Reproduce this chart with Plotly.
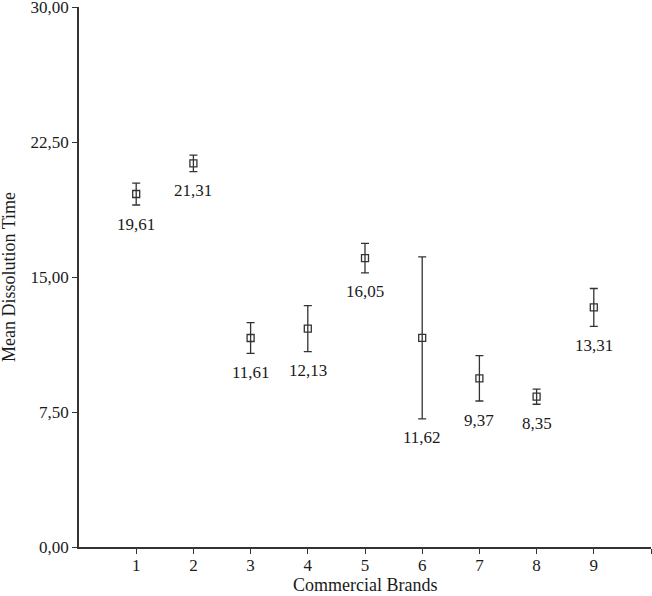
import plotly.graph_objects as go

brands = [1, 2, 3, 4, 5, 6, 7, 8, 9]
mean_time = [19.61, 21.31, 11.61, 12.13, 16.05, 11.62, 9.37, 8.35, 13.31]
error = [0.61, 0.46, 0.85, 1.28, 0.82, 4.5, 1.26, 0.42, 1.05]

y_tickvals = [0, 7.5, 15, 22.5, 30]
x_tickvals = [1, 2, 3, 4, 5, 6, 7, 8, 9, 10]
x_ticktext = ["1", "2", "3", "4", "5", "6", "7", "8", "9", ""]

FONT = "Liberation Serif, Times New Roman, serif"
INK = "#333333"
TXT = "#1a1a1a"

fig = go.Figure()
fig.add_trace(go.Scatter(
    x=brands, y=mean_time, mode="markers",
    marker=dict(symbol="square-open", size=7, color=INK, line=dict(width=1.3, color=INK)),
    error_y=dict(type="data", array=error, visible=True, color=INK, thickness=1.3, width=4),
    showlegend=False, cliponaxis=False,
))

for b, m, e in zip(brands, mean_time, error):
    fig.add_annotation(
        x=b, y=m - e, text=f"{m:.2f}".replace(".", ","), showarrow=False,
        yanchor="middle", xanchor="center", yshift=-19,
        font=dict(family=FONT, size=17, color=TXT),
    )

fig.add_annotation(
    xref="paper", yref="paper", x=0.5, y=0, yshift=-38,
    text="Commercial Brands", showarrow=False, xanchor="center", yanchor="middle",
    font=dict(family=FONT, size=18, color=TXT),
)
fig.add_annotation(
    xref="paper", yref="paper", x=0, y=0.5, xshift=-70,
    text="Mean Dissolution Time", showarrow=False, textangle=-90,
    xanchor="center", yanchor="middle",
    font=dict(family=FONT, size=18, color=TXT),
)

fig.update_layout(
    width=652, height=596,
    margin=dict(l=79, r=1, t=7, b=49),
    paper_bgcolor="white", plot_bgcolor="white",
    separators=", ",
    font=dict(family=FONT, size=17, color=TXT),
    xaxis=dict(
        range=[0, 10], tickvals=x_tickvals, ticktext=x_ticktext, automargin=False,
        showgrid=False, zeroline=False, showline=True, linecolor=INK, linewidth=1.5,
        ticks="outside", ticklen=5, tickcolor=INK, tickwidth=1.3,
        ticklabeloverflow="allow", ticklabelstandoff=-3,
    ),
    yaxis=dict(
        range=[0, 30], tickvals=y_tickvals, tickformat=".2f", automargin=False,
        showgrid=False, zeroline=False, showline=True, linecolor=INK, linewidth=1.5,
        ticks="outside", ticklen=5, tickcolor=INK, tickwidth=1.3,
        ticklabeloverflow="allow",
    ),
)

fig.write_html(
    "out.html",
    config={"displayModeBar": False},
    post_script="document.body.style.margin='0';document.body.style.padding='0';",
)
